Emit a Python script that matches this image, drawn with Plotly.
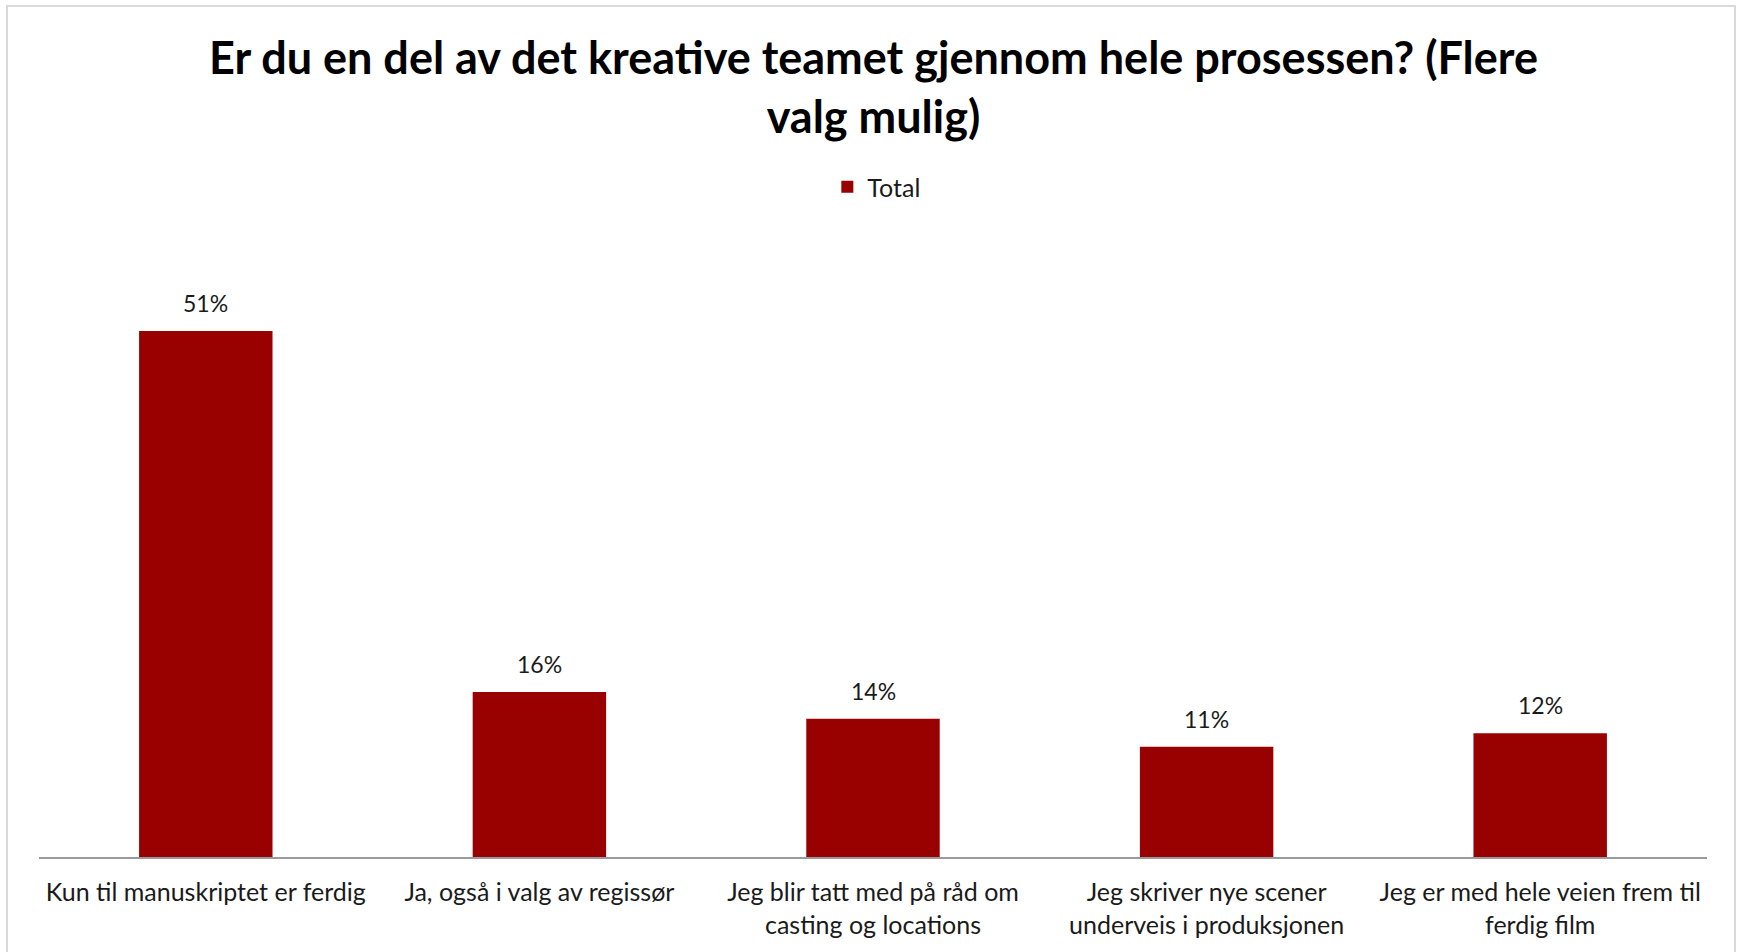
import plotly.graph_objects as go

categories = [
    "Kun til manuskriptet er ferdig",
    "Ja, også i valg av regissør",
    "Jeg blir tatt med på råd om<br>casting og locations",
    "Jeg skriver nye scener<br>underveis i produksjonen",
    "Jeg er med hele veien frem til<br>ferdig film",
]
values = [51.0, 16.0, 13.4, 10.7, 12.0]
value_labels = ["51%", "16%", "14%", "11%", "12%"]
series_name = "Total"
title_text = "Er du en del av det kreative teamet gjennom hele prosessen? (Flere<br>valg mulig)"

W, H = 1739, 952
ml, mr, mt, mb = 39, 32, 200, 95
plot_h = H - mt - mb
y_max = 63.7

bar_color = "#990000"
text_color = "#1a1a1a"
font_family = "Lato, 'Open Sans', sans-serif"

fig = go.Figure()
fig.add_trace(go.Bar(
    x=categories, y=values, name=series_name,
    marker=dict(color=bar_color, line=dict(width=0)),
    showlegend=True,
))

for c, v, t in zip(categories, values, value_labels):
    fig.add_annotation(x=c, y=v, xref="x", yref="y", text=t, showarrow=False,
                       yanchor="bottom", yshift=12,
                       font=dict(family=font_family, size=23, color=text_color))


def px_to_paper_x(px):
    return (px - ml) / (W - ml - mr)


def px_to_paper_y(py):
    return (H - mb - py) / plot_h


fig.add_shape(type="rect", xref="paper", yref="paper",
              x0=px_to_paper_x(7), x1=px_to_paper_x(1735),
              y0=px_to_paper_y(1000), y1=px_to_paper_y(6),
              line=dict(color="#d9d9d9", width=2), fillcolor="rgba(0,0,0,0)", layer="below")

fig.add_annotation(text="<b>" + title_text + "</b>", xref="paper", yref="paper",
                   x=0.5, xanchor="center", y=px_to_paper_y(87), yanchor="middle",
                   showarrow=False, align="center",
                   font=dict(family=font_family, size=45, color="black"))

fig.update_layout(
    width=W, height=H,
    margin=dict(l=ml, r=mr, t=mt, b=mb),
    paper_bgcolor="white", plot_bgcolor="white",
    bargap=0.6,
    legend=dict(orientation="h", x=0.502, xanchor="center", y=px_to_paper_y(187), yanchor="middle",
                font=dict(family=font_family, size=25, color=text_color),
                itemwidth=30),
    font=dict(family=font_family, color=text_color),
    xaxis=dict(showline=True, linecolor="#9a9a9a", linewidth=2, ticks="",
               ticklabelstandoff=12,
               tickfont=dict(family=font_family, size=25, color=text_color), showgrid=False),
    yaxis=dict(range=[0, y_max], visible=False, showgrid=False, zeroline=False),
)

fig.write_html("out.html", config={"displayModeBar": False},
               post_script="document.body.style.margin='0';")
